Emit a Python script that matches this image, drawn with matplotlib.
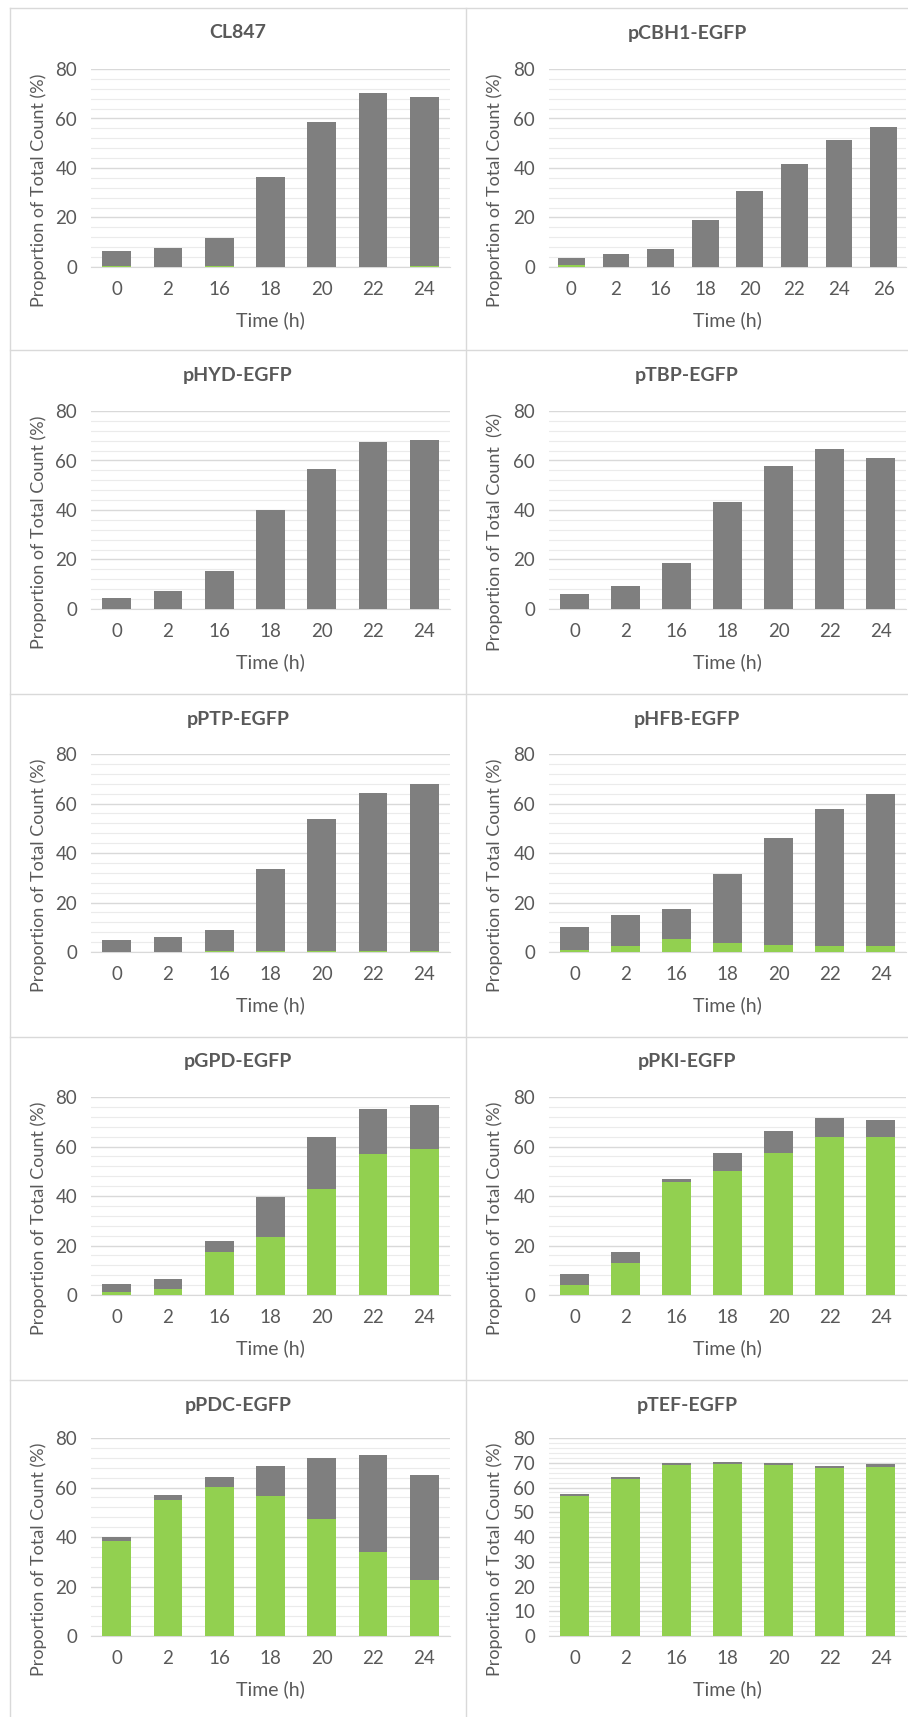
import numpy as np
import matplotlib
matplotlib.use('Agg')
import matplotlib.pyplot as plt
from matplotlib.lines import Line2D

plt.rcParams['font.family'] = ['Lato', 'DejaVu Sans']

# time points (categories)
times7 = ['0', '2', '16', '18', '20', '22', '24']
times8 = ['0', '2', '16', '18', '20', '22', '24', '26']

# green = EGFP part, total = full bar height
cl847_green = [0.5, 0.2, 0.5, 0.2, 0.2, 0.2, 0.5]
cl847_total = [6.6, 7.5, 11.6, 36.5, 58.5, 70.4, 68.8]

pcbh1_green = [0.7, 0.1, 0.1, 0.1, 0.1, 0.1, 0.1, 0.1]
pcbh1_total = [3.6, 5.3, 7.4, 19.1, 30.7, 41.6, 51.5, 56.6]

phyd_green = [0, 0, 0, 0, 0, 0, 0]
phyd_total = [4.3, 7.1, 15.2, 39.9, 56.6, 67.4, 68.2]

ptbp_green = [0, 0, 0, 0, 0, 0, 0]
ptbp_total = [5.9, 9.3, 18.4, 43.3, 57.8, 64.5, 61.2]

pptp_green = [0.1, 0.1, 0.4, 0.4, 0.4, 0.4, 0.4]
pptp_total = [4.9, 6.2, 9.0, 33.7, 53.6, 64.1, 67.9]

phfb_green = [0.8, 2.3, 5.1, 3.6, 2.7, 2.3, 2.3]
phfb_total = [10.1, 15.1, 17.2, 31.4, 45.9, 57.6, 63.8]

pgpd_green = [1.1, 2.3, 17.5, 23.4, 43.0, 57.1, 59.1]
pgpd_total = [4.6, 6.3, 21.7, 39.5, 63.7, 75.3, 76.9]

ppki_green = [3.9, 12.9, 45.5, 50.0, 57.5, 63.7, 63.7]
ppki_total = [8.4, 17.5, 47.0, 57.4, 66.4, 71.5, 70.7]

ppdc_green = [38.2, 54.9, 60.3, 56.6, 47.4, 33.8, 22.6]
ppdc_total = [40.1, 57.0, 64.1, 68.6, 71.8, 73.1, 65.2]

ptef_green = [56.4, 63.3, 69.2, 69.4, 69.1, 67.7, 68.1]
ptef_total = [57.2, 64.2, 70.0, 70.2, 70.0, 68.5, 69.4]

ylab = 'Proportion of Total Count (%)'
panels = [
    ('CL847', times7, cl847_green, cl847_total, 20, ylab),
    ('pCBH1-EGFP', times8, pcbh1_green, pcbh1_total, 20, ylab),
    ('pHYD-EGFP', times7, phyd_green, phyd_total, 20, ylab),
    ('pTBP-EGFP', times7, ptbp_green, ptbp_total, 20, 'Proportion of Total Count  (%)'),
    ('pPTP-EGFP', times7, pptp_green, pptp_total, 20, ylab),
    ('pHFB-EGFP', times7, phfb_green, phfb_total, 20, ylab),
    ('pGPD-EGFP', times7, pgpd_green, pgpd_total, 20, ylab),
    ('pPKI-EGFP', times7, ppki_green, ppki_total, 20, ylab),
    ('pPDC-EGFP', times7, ppdc_green, ppdc_total, 20, ylab),
    ('pTEF-EGFP', times7, ptef_green, ptef_total, 10, ylab),
]

GREEN = '#92D050'
GRAY = '#7F7F7F'
TXT = '#595959'
GRID = '#D9D9D9'

W, H = 908, 1717
fig = plt.figure(figsize=(W / 100, H / 100), dpi=100)

col_left = [10, 466]
col_w = [456, 442]
ax_off = [81, 83]
ax_w = [359, 357]
row_top = [8, 350, 694, 1037, 1380]
ax_top = [61, 61, 60, 60, 58]
ax_h = 198

def fx(px):
    return px / W

def fy(py):
    return 1 - py / H

# panel borders
for y in row_top:
    fig.add_artist(Line2D([fx(10), fx(908)], [fy(y), fy(y)], color=GRID, lw=1))
for x in col_left:
    fig.add_artist(Line2D([fx(x), fx(x)], [fy(8), fy(1717)], color=GRID, lw=1))

for i, (title, cats, green, total, step, yl) in enumerate(panels):
    r, c = divmod(i, 2)
    left = col_left[c] + ax_off[c]
    top = row_top[r] + ax_top[r]
    ax = fig.add_axes([fx(left), fy(top + ax_h), ax_w[c] / W, ax_h / H])

    n = len(cats)
    x = np.arange(n)
    bw = 0.6 if n == 8 else 0.56
    green = np.array(green)
    gray = np.array(total) - green
    ax.bar(x, green, bw, color=GREEN, zorder=3)
    ax.bar(x, gray, bw, bottom=green, color=GRAY, zorder=3)

    ax.set_xlim(-0.5, n - 0.5)
    ax.set_ylim(0, 80)
    ax.set_xticks(x)
    ax.set_xticklabels(cats)
    ax.set_yticks(np.arange(0, 81, step))
    ax.set_yticks(np.arange(0, 81, step / 5), minor=True)
    ax.grid(which='minor', axis='y', color='#EBEBEB', lw=0.8, zorder=0)
    ax.grid(which='major', axis='y', color=GRID, lw=1, zorder=1)
    ax.set_axisbelow(True)
    for s in ['top', 'right', 'left']:
        ax.spines[s].set_visible(False)
    ax.spines['bottom'].set_color(GRID)
    ax.tick_params(which='both', length=0)
    ax.tick_params(axis='y', labelsize=13.5, labelcolor=TXT, pad=10)
    ax.tick_params(axis='x', labelsize=13.5, labelcolor=TXT, pad=10)

    cx = col_left[c] + col_w[c] / 2
    fig.text(fx(cx), fy(row_top[r] + 25), title, ha='center', va='center',
             fontsize=14, fontweight='bold', color=TXT)
    fig.text(fx(left + ax_w[c] / 2), fy(top + ax_h + 53), 'Time (h)',
             ha='center', va='center', fontsize=14, color=TXT)
    fig.text(fx(col_left[c] + 29), fy(top + ax_h / 2 + 22), yl, rotation=90,
             ha='center', va='center', fontsize=13, color=TXT)

fig.savefig('out.png', dpi=100, facecolor='white')
